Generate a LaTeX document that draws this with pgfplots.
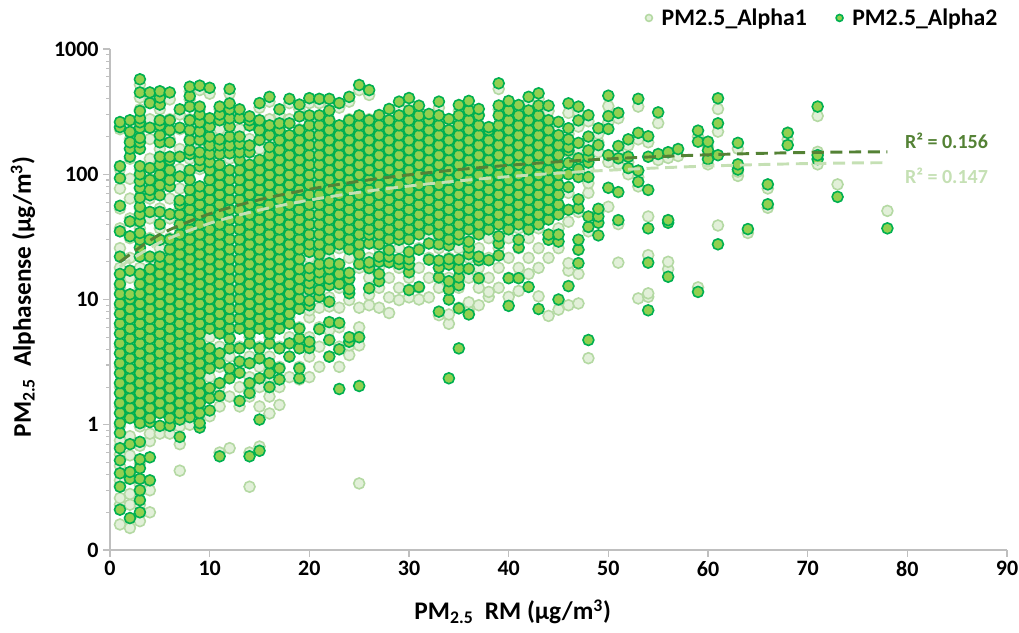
\documentclass[border=0pt]{standalone}
\usepackage{fontspec}
\setmainfont{Carlito}
\usepackage{pgfplots}
\pgfplotsset{compat=1.18}
\definecolor{dkedge}{HTML}{00B050}
\definecolor{dkfill}{HTML}{92D050}
\definecolor{ltedge}{HTML}{B4D9A3}
\definecolor{ltfill}{HTML}{E2F0D9}
\definecolor{trdk}{HTML}{548235}
\definecolor{trlt}{HTML}{C5E0B4}
\definecolor{axgray}{HTML}{BFBFBF}
\begin{document}
\begin{tikzpicture}
\useasboundingbox (0,0) rectangle (764.25pt,474pt);
\begin{axis}[
  at={(82.5pt,61.5pt)}, anchor=south west,
  scale only axis, width=672.75pt, height=375.75pt,
  ymode=log, xmin=0, xmax=90, ymin=0.1, ymax=1000,
  xtick={0,10,...,90},
  ytick={0.1,1,10,100,1000}, yticklabels={0,1,10,100,1000},
  axis x line*=bottom, axis y line*=left,
  axis line style={axgray, line width=1pt, -},
  tick style={axgray, line width=0.8pt},
  tick align=outside,
  major tick length=5pt, minor tick length=3pt,
  /pgf/number format/assume math mode=true,
  ticklabel style={font=\bfseries\fontsize{16.5}{18}\selectfont, black},
  xlabel={PM\textsubscript{2.5}\ \ RM (µg/m\textsuperscript{3})},
  ylabel={PM\textsubscript{2.5}\ \ Alphasense (µg/m\textsuperscript{3})},
  label style={font=\bfseries\fontsize{19}{21}\selectfont},
  xlabel style={at={(axis description cs:0.449,-0.124)}, anchor=center},
  ylabel style={at={(axis description cs:-0.097,0.505)}, anchor=center},
  legend style={at={(0.997,1.062)}, anchor=east, draw=none, fill=none,
    font=\bfseries\fontsize{17.8}{19}\selectfont,
    /tikz/every odd column/.append style={column sep=5pt},
    /tikz/every even column/.append style={column sep=20pt}},
  legend image post style={mark size=2.6pt},
  legend columns=2,
  legend cell align=left,
  clip=false, clip marker paths=true,
]
\addplot[only marks, mark=*, mark size=4.1pt, mark options={draw=ltedge, fill=ltfill, line width=1.2pt}] coordinates {
(1,0.16)(1,0.23)(1,0.26)(1,0.33)(1,0.36)(1,0.47)(1,0.58)(1,0.68)(1,0.75)(1,0.97)(1,1.4)(1,2.0)(1,2.9)(1,4.2)(1,6.0)(1,8.6)(1,12.4)(1,17.9)(1,25.7)(1,37)(1,53.3)(1,76.8)(1,110)(1,229)
(2,0.15)(2,0.23)(2,0.28)(2,0.4)(2,0.57)(2,0.81)(2,1.17)(2,1.68)(2,2.4)(2,3.5)(2,5.0)(2,7.2)(2,10.4)(2,14.9)(2,21.5)(2,30.9)(2,44.4)(2,64)(2,92)(2,133)(2,191)(2,250)
(3,0.17)(3,0.23)(3,0.33)(3,0.49)(3,0.68)(3,0.97)(3,1.4)(3,2.0)(3,2.9)(3,4.2)(3,6.0)(3,8.6)(3,12.4)(3,17.9)(3,25.7)(3,37)(3,53.3)(3,76.8)(3,110)(3,159)(3,229)(3,330)(3,410)(3,520)
(4,0.2)(4,0.3)(4,0.74)(4,0.85)(4,1.17)(4,1.68)(4,2.4)(4,3.5)(4,5.0)(4,7.2)(4,10.4)(4,14.9)(4,21.5)(4,30.9)(4,44.4)(4,64)(4,92)(4,133)(4,191)(4,275)(4,396)
(5,0.85)(5,1.4)(5,2.0)(5,2.9)(5,4.2)(5,6.0)(5,8.6)(5,12.4)(5,17.9)(5,25.7)(5,37)(5,53.3)(5,76.8)(5,110)(5,159)(5,229)(5,330)(5,420)
(6,0.85)(6,1.17)(6,1.68)(6,2.4)(6,3.5)(6,5.0)(6,7.2)(6,10.4)(6,14.9)(6,21.5)(6,30.9)(6,44.4)(6,64)(6,92)(6,133)(6,191)(6,275)(6,396)
(7,0.43)(7,0.7)(7,0.97)(7,1.4)(7,2.0)(7,2.9)(7,4.2)(7,6.0)(7,8.6)(7,12.4)(7,17.9)(7,25.7)(7,37)(7,53.3)(7,76.8)(7,110)(7,159)(7,229)(7,300)
(8,1.0)(8,1.17)(8,1.68)(8,2.4)(8,3.5)(8,5.0)(8,7.2)(8,10.4)(8,14.9)(8,21.5)(8,30.9)(8,44.4)(8,64)(8,92)(8,133)(8,191)(8,275)(8,396)(8,460)
(9,0.97)(9,1.4)(9,2.0)(9,2.9)(9,4.2)(9,6.0)(9,8.6)(9,12.4)(9,17.9)(9,25.7)(9,37)(9,53.3)(9,76.8)(9,110)(9,159)(9,229)(9,330)(9,470)
(10,1.17)(10,1.68)(10,2.4)(10,3.5)(10,5.0)(10,7.2)(10,10.4)(10,14.9)(10,21.5)(10,30.9)(10,44.4)(10,64)(10,92)(10,133)(10,191)(10,275)(10,440)
(11,0.6)(11,1.4)(11,2.0)(11,2.9)(11,4.2)(11,6.0)(11,8.6)(11,12.4)(11,17.9)(11,25.7)(11,37)(11,53.3)(11,76.8)(11,110)(11,159)(11,229)(11,330)
(12,0.65)(12,1.68)(12,2.4)(12,3.5)(12,5.0)(12,7.2)(12,10.4)(12,14.9)(12,21.5)(12,30.9)(12,44.4)(12,64)(12,92)(12,133)(12,191)(12,275)(12,440)
(13,1.4)(13,2.0)(13,2.9)(13,4.2)(13,6.0)(13,8.6)(13,12.4)(13,17.9)(13,25.7)(13,37)(13,53.3)(13,76.8)(13,110)(13,159)(13,229)(13,300)
(14,0.32)(14,0.6)(14,1.68)(14,2.4)(14,3.5)(14,5.0)(14,7.2)(14,10.4)(14,14.9)(14,21.5)(14,30.9)(14,44.4)(14,64)(14,92)(14,133)(14,191)(14,265)
(15,0.67)(15,1.4)(15,2.0)(15,2.9)(15,4.2)(15,6.0)(15,8.6)(15,12.4)(15,17.9)(15,25.7)(15,37)(15,53.3)(15,76.8)(15,110)(15,159)(15,229)(15,340)
(16,1.23)(16,1.68)(16,2.4)(16,3.5)(16,5.0)(16,7.2)(16,10.4)(16,14.9)(16,21.5)(16,30.9)(16,44.4)(16,64)(16,92)(16,133)(16,191)(16,275)(16,380)
(17,1.44)(17,2.0)(17,2.9)(17,4.2)(17,6.0)(17,8.6)(17,12.4)(17,17.9)(17,25.7)(17,37)(17,53.3)(17,76.8)(17,110)(17,159)(17,229)(17,300)
(18,2.4)(18,3.5)(18,5.0)(18,7.2)(18,10.4)(18,14.9)(18,21.5)(18,30.9)(18,44.4)(18,64)(18,92)(18,133)(18,191)(18,275)(18,370)
(19,2.3)(19,2.9)(19,4.2)(19,6.0)(19,8.6)(19,12.4)(19,17.9)(19,25.7)(19,37)(19,53.3)(19,76.8)(19,110)(19,159)(19,229)(19,330)
(20,2.4)(20,3.5)(20,5.0)(20,7.2)(20,8.2)(20,10.4)(20,14.9)(20,21.5)(20,30.9)(20,44.4)(20,64)(20,92)(20,133)(20,191)(20,275)(20,370)
(21,2.9)(21,4.2)(21,6.0)(21,8.6)(21,12.4)(21,17.9)(21,25.7)(21,37)(21,53.3)(21,76.8)(21,110)(21,159)(21,229)(21,370)
(22,3.5)(22,5.7)(22,8.8)(22,10.4)(22,14.9)(22,21.5)(22,30.9)(22,44.4)(22,64)(22,92)(22,133)(22,191)(22,275)(22,380)
(23,2.9)(23,4.2)(23,6.0)(23,8.6)(23,12.4)(23,17.9)(23,25.7)(23,37)(23,53.3)(23,76.8)(23,110)(23,159)(23,229)(23,340)
(24,3.6)(24,4.3)(24,9.9)(24,14.9)(24,21.5)(24,30.9)(24,44.4)(24,64)(24,92)(24,133)(24,191)(24,275)(24,380)
(25,0.34)(25,4.3)(25,6.0)(25,8.6)(25,17.9)(25,25.7)(25,37)(25,53.3)(25,76.8)(25,110)(25,159)(25,229)(25,470)
(26,9)(26,10.9)(26,14.9)(26,21.5)(26,30.9)(26,44.4)(26,64)(26,92)(26,133)(26,191)(26,275)(26,430)
(27,8.6)(27,12.4)(27,17.9)(27,25.7)(27,37)(27,53.3)(27,76.8)(27,110)(27,159)(27,229)(27,270)
(28,7.8)(28,10.4)(28,14.9)(28,21.5)(28,30.9)(28,44.4)(28,64)(28,92)(28,133)(28,191)(28,300)
(29,9.9)(29,12.4)(29,17.9)(29,25.7)(29,37)(29,53.3)(29,76.8)(29,110)(29,159)(29,229)(29,340)
(30,10.4)(30,14.9)(30,21.5)(30,30.9)(30,44.4)(30,64)(30,92)(30,133)(30,191)(30,275)(30,370)
(31,10)(31,12.4)(31,17.9)(31,25.7)(31,37)(31,53.3)(31,76.8)(31,110)(31,159)(31,229)(31,320)
(32,10.4)(32,14.9)(32,21.5)(32,30.9)(32,44.4)(32,64)(32,92)(32,133)(32,191)(32,275)
(33,7.5)(33,12.4)(33,17.9)(33,25.7)(33,37)(33,53.3)(33,76.8)(33,110)(33,159)(33,229)(33,340)
(34,6.4)(34,7.6)(34,14.9)(34,21.5)(34,30.9)(34,44.4)(34,64)(34,92)(34,133)(34,191)(34,250)
(35,8.6)(35,12.4)(35,17.9)(35,25.7)(35,37)(35,53.3)(35,76.8)(35,110)(35,159)(35,229)(35,320)
(36,8)(36,9.5)(36,14.9)(36,21.5)(36,30.9)(36,44.4)(36,64)(36,92)(36,133)(36,191)(36,275)(36,350)
(37,9)(37,12.4)(37,17.9)(37,25.7)(37,37)(37,53.3)(37,76.8)(37,110)(37,159)(37,229)(37,300)
(38,10.5)(38,11.5)(38,14.9)(38,21.5)(38,30.9)(38,44.4)(38,64)(38,92)(38,133)(38,191)(38,215)
(39,12.4)(39,17.9)(39,25.7)(39,37)(39,53.3)(39,76.8)(39,110)(39,159)(39,229)(39,330)(39,480)
(40,10.5)(40,14.9)(40,21.5)(40,30.9)(40,44.4)(40,64)(40,92)(40,133)(40,191)(40,275)(40,350)
(41,11.7)(41,17.9)(41,25.7)(41,37)(41,53.3)(41,76.8)(41,110)(41,159)(41,229)(41,320)
(42,16)(42,21.5)(42,30.9)(42,44.4)(42,64)(42,92)(42,133)(42,191)(42,275)(42,380)
(43,10.6)(43,17.9)(43,25.7)(43,37)(43,53.3)(43,76.8)(43,110)(43,159)(43,229)(43,330)(43,400)
(44,7.4)(44,21.5)(44,30.9)(44,44.4)(44,64)(44,92)(44,133)(44,191)(44,320)
(45,8.3)(45,25.7)(45,37)(45,53.3)(45,76.8)(45,110)(45,159)(45,229)
(46,9)(46,17)(46,19.5)(46,41.8)(46,71)(46,110)(46,150)(46,210)(46,309)
(47,9.3)(47,16)(47,25)(47,50)(47,120)(47,160)(47,240)(47,310)
(48,3.4)(48,35)(48,71)(48,85)(48,110)(48,140)(48,180)(48,265)
(49,50)(49,150)(49,180)(49,210)
(50,55)(50,125)(50,260)(50,350)
(51,19.7)(51,40)(51,120)(51,150)(51,280)
(52,100)(52,125)(52,170)
(53,10.2)(53,80)(53,95)(53,190)(53,347)
(54,10.5)(54,11.2)(54,22.6)(54,46)(54,180)
(55,130)(55,256)
(56,17.5)(56,20)(56,43)(56,135)
(57,140)
(59,12.5)(59,200)
(60,120)(60,140)(60,165)
(61,39)(61,219)(61,332)
(63,97)(63,105)(63,114)(63,160)
(64,34)
(66,54)(66,77)
(68,190)(68,215)
(71,120)(71,151)(71,292)
(73,83)
(78,51)
};
\addlegendentry{PM2.5\_Alpha1}
\addplot[only marks, mark=*, mark size=4.1pt, mark options={draw=dkedge, fill=dkfill, line width=1.2pt}] coordinates {
(1,0.21)(1,0.32)(1,0.41)(1,0.52)(1,0.65)(1,0.86)(1,1.03)(1,1.24)(1,1.49)(1,1.79)(1,2.15)(1,2.58)(1,3.1)(1,3.72)(1,4.46)(1,5.35)(1,6.42)(1,7.7)(1,9.24)(1,11.1)(1,13.3)(1,16)(1,22)(1,35)(1,56)(1,93)(1,116)(1,238)(1,261)
(2,0.18)(2,0.37)(2,0.42)(2,0.7)(2,1.13)(2,1.36)(2,1.63)(2,1.96)(2,2.35)(2,2.82)(2,3.39)(2,4.07)(2,4.88)(2,5.86)(2,7.03)(2,8.43)(2,10.1)(2,11)(2,17)(2,32)(2,42)(2,138)(2,160)(2,180)(2,218)(2,270)
(3,0.2)(3,0.25)(3,0.3)(3,0.37)(3,0.45)(3,0.53)(3,0.73)(3,1.03)(3,1.24)(3,1.49)(3,1.79)(3,2.15)(3,2.58)(3,3.1)(3,3.72)(3,4.46)(3,5.35)(3,6.42)(3,7.7)(3,9.24)(3,11.1)(3,13.3)(3,16)(3,22)(3,26)(3,30)(3,34)(3,42)(3,48)(3,55)(3,65)(3,78)(3,88)(3,100)(3,116)(3,160)(3,180)(3,195)(3,235)(3,260)(3,280)(3,320)(3,450)(3,573)
(4,0.36)(4,0.55)(4,1.05)(4,1.13)(4,1.36)(4,1.63)(4,1.96)(4,2.35)(4,2.82)(4,3.39)(4,4.07)(4,4.88)(4,5.86)(4,7.03)(4,8.43)(4,10.1)(4,12.1)(4,14.6)(4,17.5)(4,22)(4,30)(4,50)(4,68)(4,75)(4,90)(4,112)(4,235)(4,370)(4,450)
(5,0.98)(5,1.24)(5,1.49)(5,1.79)(5,2.15)(5,2.58)(5,3.1)(5,3.72)(5,4.46)(5,5.35)(5,6.42)(5,7.7)(5,9.24)(5,11.1)(5,13.3)(5,16)(5,19.2)(5,22)(5,30)(5,40)(5,50)(5,68)(5,82)(5,99)(5,119)(5,138)(5,180)(5,205)(5,246)(5,270)(5,360)(5,410)(5,460)
(6,0.98)(6,1.13)(6,1.36)(6,1.63)(6,1.96)(6,2.35)(6,2.82)(6,3.39)(6,4.07)(6,4.88)(6,5.86)(6,7.03)(6,8.43)(6,10.1)(6,12.1)(6,14.6)(6,17.5)(6,21)(6,25.2)(6,30.2)(6,48)(6,80)(6,90)(6,108)(6,130)(6,138)(6,180)(6,225)(6,270)(6,450)
(7,0.8)(7,1.1)(7,1.24)(7,1.49)(7,1.79)(7,2.15)(7,2.58)(7,3.1)(7,3.72)(7,4.46)(7,5.35)(7,6.42)(7,7.7)(7,9.24)(7,11.1)(7,13.3)(7,16)(7,19.2)(7,23)(7,27.6)(7,33.1)(7,39.8)(7,47.7)(7,57.3)(7,62)(7,96)(7,138)(7,235)(7,330)
(8,1.15)(8,1.36)(8,1.63)(8,1.96)(8,2.35)(8,2.82)(8,3.39)(8,4.07)(8,4.88)(8,5.86)(8,7.03)(8,8.43)(8,10.1)(8,12.1)(8,14.6)(8,17.5)(8,21)(8,25.2)(8,30.2)(8,36.3)(8,43.5)(8,52.2)(8,62.7)(8,75.2)(8,90.3)(8,108)(8,145)(8,156)(8,187)(8,225)(8,270)(8,347)(8,420)(8,500)
(9,0.95)(9,1.03)(9,1.24)(9,1.49)(9,1.79)(9,2.15)(9,2.58)(9,3.1)(9,3.72)(9,4.46)(9,5.35)(9,6.42)(9,7.7)(9,9.24)(9,11.1)(9,13.3)(9,16)(9,19.2)(9,23)(9,27.6)(9,33.1)(9,39.8)(9,47.7)(9,57.3)(9,68.7)(9,80)(9,116)(9,130)(9,150)(9,188)(9,220)(9,260)(9,300)(9,347)(9,510)
(10,1.3)(10,1.63)(10,1.96)(10,2.82)(10,3.39)(10,4.07)(10,5.86)(10,7.03)(10,8.43)(10,10.1)(10,12.1)(10,14.6)(10,17.5)(10,21)(10,25.2)(10,30.2)(10,36.3)(10,43.5)(10,52.2)(10,62.7)(10,75.2)(10,90.3)(10,108)(10,125)(10,145)(10,170)(10,200)(10,240)(10,280)(10,490)
(11,0.56)(11,1.7)(11,2.15)(11,3.1)(11,3.72)(11,5.35)(11,6.42)(11,7.7)(11,9.24)(11,11.1)(11,13.3)(11,16)(11,19.2)(11,23)(11,27.6)(11,33.1)(11,39.8)(11,47.7)(11,57.3)(11,68.7)(11,82.4)(11,98.9)(11,119)(11,145)(11,170)(11,190)(11,270)(11,300)(11,347)
(12,2.35)(12,2.82)(12,4.07)(12,4.88)(12,5.86)(12,7.03)(12,8.43)(12,10.1)(12,12.1)(12,14.6)(12,17.5)(12,21)(12,25.2)(12,30.2)(12,36.3)(12,43.5)(12,52.2)(12,62.7)(12,75.2)(12,90.3)(12,108)(12,147)(12,170)(12,200)(12,240)(12,280)(12,330)(12,368)(12,480)
(13,1.55)(13,2.6)(13,3.2)(13,4.07)(13,5.86)(13,7.03)(13,8.43)(13,10.1)(13,12.1)(13,14.6)(13,17.5)(13,21)(13,25.2)(13,30.2)(13,36.3)(13,43.5)(13,52.2)(13,62.7)(13,75.2)(13,90.3)(13,108)(13,130)(13,150)(13,175)(13,200)(13,280)(13,330)
(14,0.56)(14,1.79)(14,2.15)(14,3.1)(14,4.46)(14,5.35)(14,6.42)(14,7.7)(14,9.24)(14,11.1)(14,13.3)(14,16)(14,19.2)(14,23)(14,27.6)(14,33.1)(14,39.8)(14,47.7)(14,57.3)(14,68.7)(14,82.4)(14,98.9)(14,119)(14,150)(14,170)(14,245)(14,270)(14,290)
(15,0.62)(15,1.1)(15,2.35)(15,3.39)(15,4.07)(15,5.86)(15,7.03)(15,8.43)(15,10.1)(15,12.1)(15,14.6)(15,17.5)(15,21)(15,25.2)(15,30.2)(15,36.3)(15,43.5)(15,52.2)(15,62.7)(15,75.2)(15,90.3)(15,108)(15,130)(15,188)(15,225)(15,270)(15,370)
(16,2)(16,2.58)(16,3.1)(16,4.46)(16,5.35)(16,6.42)(16,7.7)(16,9.24)(16,11.1)(16,13.3)(16,16)(16,19.2)(16,23)(16,27.6)(16,33.1)(16,39.8)(16,47.7)(16,57.3)(16,68.7)(16,82.4)(16,98.9)(16,119)(16,142)(16,165)(16,205)(16,246)(16,415)
(17,2.3)(17,2.82)(17,4.07)(17,5.86)(17,7.03)(17,8.43)(17,10.1)(17,12.1)(17,14.6)(17,17.5)(17,21)(17,25.2)(17,30.2)(17,36.3)(17,43.5)(17,52.2)(17,62.7)(17,75.2)(17,90.3)(17,108)(17,130)(17,156)(17,187)(17,225)(17,255)(17,330)
(18,3.5)(18,4.46)(18,6.42)(18,7.7)(18,9.24)(18,11.1)(18,13.3)(18,16)(18,19.2)(18,23)(18,27.6)(18,33.1)(18,39.8)(18,47.7)(18,57.3)(18,68.7)(18,82.4)(18,98.9)(18,119)(18,142)(18,171)(18,205)(18,255)(18,400)
(19,2.35)(19,2.82)(19,4.07)(19,4.88)(19,5.86)(19,8.43)(19,10.1)(19,12.1)(19,14.6)(19,17.5)(19,21)(19,25.2)(19,30.2)(19,36.3)(19,43.5)(19,52.2)(19,62.7)(19,75.2)(19,90.3)(19,108)(19,130)(19,156)(19,187)(19,225)(19,290)(19,360)
(20,4.1)(20,4.6)(20,9)(20,9.8)(20,12)(20,13.5)(20,15.5)(20,17.8)(20,24)(20,27.6)(20,33.1)(20,39.8)(20,47.7)(20,57.3)(20,68.7)(20,82.4)(20,98.9)(20,119)(20,142)(20,171)(20,205)(20,246)(20,295)(20,405)
(21,5.8)(21,10.5)(21,11.9)(21,14.4)(21,16.5)(21,19.2)(21,23)(21,27.6)(21,33.1)(21,39.8)(21,47.7)(21,57.3)(21,68.7)(21,82.4)(21,98.9)(21,119)(21,142)(21,171)(21,205)(21,246)(21,295)(21,400)
(22,3.5)(22,4.75)(22,6.6)(22,9.6)(22,13)(22,14.6)(22,17.5)(22,19.5)(22,25.2)(22,30.2)(22,36.3)(22,43.5)(22,52.2)(22,62.7)(22,75.2)(22,90.3)(22,108)(22,130)(22,156)(22,187)(22,225)(22,270)(22,323)(22,400)
(23,1.93)(23,4)(23,6.5)(23,13.3)(23,16)(23,19.2)(23,27.6)(23,33.1)(23,39.8)(23,47.7)(23,57.3)(23,68.7)(23,82.4)(23,98.9)(23,119)(23,142)(23,171)(23,205)(23,246)(23,370)
(24,4.6)(24,5)(24,11.2)(24,12.1)(24,14.6)(24,16.3)(24,25.2)(24,30.2)(24,36.3)(24,43.5)(24,52.2)(24,62.7)(24,75.2)(24,90.3)(24,108)(24,130)(24,156)(24,187)(24,225)(24,270)(24,415)
(25,2.04)(25,5)(25,19.2)(25,23)(25,27.6)(25,33.1)(25,39.8)(25,47.7)(25,57.3)(25,68.7)(25,82.4)(25,98.9)(25,119)(25,142)(25,171)(25,205)(25,246)(25,295)(25,516)
(26,12.3)(26,17.8)(26,19.8)(26,28)(26,33)(26,36.3)(26,43.5)(26,52.2)(26,62.7)(26,75.2)(26,90.3)(26,108)(26,130)(26,156)(26,187)(26,225)(26,270)(26,470)
(27,14)(27,16)(27,20)(27,22)(27,27.6)(27,33.1)(27,39.8)(27,47.7)(27,57.3)(27,68.7)(27,82.4)(27,98.9)(27,119)(27,142)(27,171)(27,205)(27,246)(27,297)
(28,19.8)(28,22)(28,24.8)(28,30.2)(28,36.3)(28,43.5)(28,52.2)(28,62.7)(28,75.2)(28,90.3)(28,108)(28,130)(28,156)(28,187)(28,225)(28,270)(28,332)
(29,19.2)(29,21)(29,30)(29,33.1)(29,39.8)(29,47.7)(29,57.3)(29,68.7)(29,82.4)(29,98.9)(29,119)(29,142)(29,171)(29,205)(29,246)(29,295)(29,380)
(30,11.9)(30,16.5)(30,19)(30,21)(30,24)(30,30.2)(30,36.3)(30,43.5)(30,52.2)(30,62.7)(30,75.2)(30,90.3)(30,108)(30,130)(30,156)(30,187)(30,225)(30,270)(30,323)(30,406)
(31,12.6)(31,25)(31,33.1)(31,39.8)(31,47.7)(31,57.3)(31,68.7)(31,82.4)(31,98.9)(31,119)(31,142)(31,171)(31,205)(31,246)(31,295)(31,353)
(32,20.8)(32,28)(32,36.3)(32,43.5)(32,52.2)(32,62.7)(32,75.2)(32,90.3)(32,108)(32,130)(32,156)(32,187)(32,225)(32,270)(32,303)
(33,8)(33,15)(33,18)(33,20.5)(33,27.6)(33,33.1)(33,39.8)(33,47.7)(33,57.3)(33,68.7)(33,82.4)(33,98.9)(33,119)(33,142)(33,171)(33,205)(33,246)(33,295)(33,380)
(34,2.35)(34,10)(34,12)(34,14)(34,19)(34,21)(34,27)(34,30.2)(34,36.3)(34,43.5)(34,52.2)(34,62.7)(34,75.2)(34,90.3)(34,108)(34,130)(34,156)(34,187)(34,225)(34,276)
(35,4.07)(35,8.5)(35,13)(35,15)(35,17.6)(35,20.8)(35,30)(35,33.1)(35,39.8)(35,47.7)(35,57.3)(35,68.7)(35,82.4)(35,98.9)(35,119)(35,142)(35,171)(35,205)(35,246)(35,295)(35,357)
(36,7.6)(36,17.6)(36,23)(36,26)(36,29)(36,36.3)(36,43.5)(36,52.2)(36,62.7)(36,75.2)(36,90.3)(36,108)(36,130)(36,156)(36,187)(36,225)(36,270)(36,323)(36,385)
(37,14.8)(37,20.6)(37,22)(37,33.1)(37,39.8)(37,47.7)(37,57.3)(37,68.7)(37,82.4)(37,98.9)(37,119)(37,142)(37,171)(37,205)(37,246)(37,295)(37,332)
(38,20.6)(38,36.3)(38,43.5)(38,52.2)(38,62.7)(38,75.2)(38,90.3)(38,108)(38,130)(38,156)(38,187)(38,225)(38,238)
(39,22.5)(39,28)(39,32)(39,39.8)(39,47.7)(39,57.3)(39,68.7)(39,82.4)(39,98.9)(39,119)(39,142)(39,171)(39,205)(39,246)(39,295)(39,354)(39,532)
(40,8.9)(40,14.8)(40,36.3)(40,43.5)(40,52.2)(40,62.7)(40,75.2)(40,90.3)(40,108)(40,130)(40,156)(40,187)(40,225)(40,270)(40,323)(40,385)
(41,14.8)(41,26)(41,30)(41,39.8)(41,47.7)(41,57.3)(41,68.7)(41,82.4)(41,98.9)(41,119)(41,142)(41,171)(41,205)(41,246)(41,295)(41,357)
(42,12.6)(42,36.3)(42,43.5)(42,52.2)(42,62.7)(42,75.2)(42,90.3)(42,108)(42,130)(42,156)(42,187)(42,225)(42,270)(42,323)(42,415)
(43,8.4)(43,39.8)(43,47.7)(43,57.3)(43,68.7)(43,82.4)(43,98.9)(43,119)(43,142)(43,171)(43,205)(43,246)(43,295)(43,354)(43,443)
(44,30)(44,33)(44,43.5)(44,52.2)(44,62.7)(44,75.2)(44,90.3)(44,108)(44,130)(44,156)(44,187)(44,225)(44,270)(44,353)
(45,10)(45,29)(45,33)(45,47.7)(45,57.3)(45,68.7)(45,82.4)(45,98.9)(45,119)(45,142)(45,171)(45,205)(45,262)
(46,12.8)(46,52)(46,79)(46,100)(46,123)(46,155)(46,165)(46,190)(46,233)(46,368)
(47,19.5)(47,25)(47,30)(47,53.5)(47,63)(47,95)(47,110)(47,134)(47,178)(47,269)(47,347)
(48,4.75)(48,38)(48,46)(48,95)(48,124)(48,138)(48,155)(48,200)(48,296)
(49,32.5)(49,41)(49,46)(49,53)(49,171)(49,233)
(50,78)(50,142)(50,230)(50,291)(50,424)
(51,43)(51,72)(51,134)(51,168)(51,309)
(52,112)(52,138)(52,190)
(53,87)(53,107)(53,214)(53,400)
(54,8.2)(54,19.7)(54,37)(54,75)(54,138)(54,201)
(55,145)(55,312)
(56,15.2)(56,41)(56,43)(56,150)
(57,159)
(59,11.5)(59,182)(59,223)
(60,132)(60,155)(60,182)
(61,27.6)(61,142)(61,255)(61,404)
(63,109)(63,120)(63,178)
(64,36.5)
(66,57.6)(66,83)
(68,171)(68,214)
(71,132)(71,142)(71,347)
(73,66)
(78,37)
};
\addlegendentry{PM2.5\_Alpha2}
\addplot[forget plot, trlt, line width=2.2pt, dash pattern=on 9pt off 5pt, smooth] coordinates {
(1,18.30)(5,28.52)(10,40.56)(15,51.78)(20,62.20)(25,71.80)(30,80.59)(35,88.57)(40,95.74)(45,102.10)(50,107.65)(55,112.38)(60,116.30)(65,119.41)(70,121.71)(75,123.20)(78,123.70)};
\addplot[forget plot, trdk, line width=2.2pt, dash pattern=on 9pt off 5pt, smooth] coordinates {
(1,20.00)(5,33.03)(10,48.36)(15,62.62)(20,75.82)(25,87.95)(30,99.02)(35,109.02)(40,117.96)(45,125.83)(50,132.64)(55,138.38)(60,143.06)(65,146.67)(70,149.22)(75,150.70)(78,151.08)};
\node[anchor=west, text=trdk, font=\bfseries\fontsize{15}{17}\selectfont] at (axis cs:79.3,184) {R² = 0.156};
\node[anchor=west, text=trlt, font=\bfseries\fontsize{15}{17}\selectfont] at (axis cs:79.3,98) {R² = 0.147};
\end{axis}
\end{tikzpicture}
\end{document}
